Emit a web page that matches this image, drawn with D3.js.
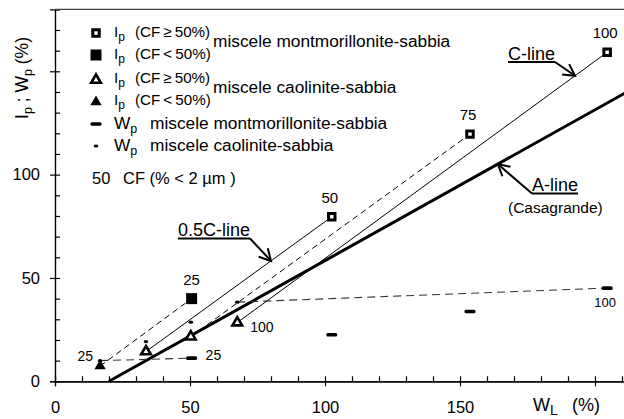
<!DOCTYPE html>
<html>
<head>
<meta charset="utf-8">
<script src="https://cdn.jsdelivr.net/npm/d3@7"></script>
<style>
  body { margin: 0; background: #fff; }
  svg { font-family: "Liberation Sans", Arial, sans-serif; }
</style>
</head>
<body>
<div id="chart"></div>
<script>
// clay fraction levels (CF, % < 2 um)
const cfLevels = [25, 50, 75, 100];
// montmorillonite-sand mixtures
const wlMont = [50.6, 102.5, 153.7, 204.5];
const ipMont = [40.0, 79.6, 119.6, 159.2];
const wpMont = [11.2, 22.5, 33.8, 45.1];
// kaolinite-sand mixtures
const wlKaol = [16.7, 33.7, 50.3, 67.5];
const ipKaol = [7.4, 14.4, 21.6, 28.4];
const wpKaol = [10.0, 19.2, 28.6, 38.3];
// Casagrande A-line end points
const aLineWL = [20, 211];
const aLineIp = [0, 139.4];
// axes
const xTicksMajor = [0, 50, 100, 150, 200];
const yTicksMajor = [0, 50, 100, 150];

const width = 624, height = 419;

const svg = d3.select('#chart').append('svg')
  .attr('width', width)
  .attr('height', height);

const x = d3.scaleLinear().domain([0, 211]).range([55, 624.7]);
const y = d3.scaleLinear().domain([0, 180]).range([381.3, 9.3]);

// helper for text with subscripts
function richText(g, parts, size, subSize) {
  parts.forEach(p => {
    const t = g.append('tspan').text(p[0]).style('font-size', (p[1] ? subSize : size) + 'px');
    if (p[1]) t.attr('dy', 4);
    else if (p[2]) t.attr('dy', -4);
    if (p[3] !== undefined) t.attr('x', p[3]);
  });
}

// ---- axes
const axisX = svg.append('g').attr('transform', 'translate(0,' + y(0) + ')');
axisX.call(d3.axisBottom(x).tickValues(d3.range(0, 211, 10)).tickSize(-5).tickFormat(''));
axisX.append('g').call(d3.axisBottom(x).tickValues(xTicksMajor).tickSize(5).tickPadding(15)
  .tickFormat(d => d < 200 ? d : ''));
axisX.selectAll('.domain').attr('stroke', '#000').attr('stroke-width', 1.2);
axisX.selectAll('line').attr('stroke', '#000').attr('stroke-width', 1.2);
axisX.selectAll('text').style('font-size', '16.5px').attr('fill', '#000').attr('font-family', null);

const axisY = svg.append('g').attr('transform', 'translate(' + x(0) + ',0)');
axisY.call(d3.axisLeft(y).tickValues(d3.range(0, 181, 10)).tickSize(-5).tickFormat(''));
axisY.append('g').call(d3.axisLeft(y).tickValues(yTicksMajor).tickSize(5).tickPadding(10)
  .tickFormat(d => d <= 100 ? d : ''));
axisY.selectAll('.domain').attr('stroke', '#000').attr('stroke-width', 1.2);
axisY.selectAll('line').attr('stroke', '#000').attr('stroke-width', 1.2);
axisY.selectAll('text').style('font-size', '16.5px').attr('fill', '#000').attr('font-family', null);

// top frame line
svg.append('line')
  .attr('x1', x(0)).attr('x2', width)
  .attr('y1', y(180)).attr('y2', y(180))
  .attr('stroke', '#444').attr('stroke-width', 1.2);

// axis titles
const xt = svg.append('text').attr('x', 533).attr('y', 411).attr('fill', '#000');
richText(xt, [['W'], ['L', true], ['(%)', false, true, 572]], 18, 14);

const yt = svg.append('text')
  .attr('transform', 'translate(28,78) rotate(-90)')
  .attr('text-anchor', 'middle').attr('fill', '#000');
richText(yt, [['I'], ['p', true], [' ; W', false, true], ['p', true], [' (%)', false, true]], 17.5, 12.5);

// ---- reference lines
const line = d3.line().x(d => x(d[0])).y(d => y(d[1]));

svg.append('path')
  .datum(aLineWL.map((d, i) => [d, aLineIp[i]]))
  .attr('d', line)
  .attr('fill', 'none').attr('stroke', '#000').attr('stroke-width', 3);

// Ip links (kaolinite -> montmorillonite for same CF); CF 50 and 100 are the C-lines
cfLevels.forEach((cf, i) => {
  const solid = cf === 50 || cf === 100;
  svg.append('path')
    .datum([[wlKaol[i], ipKaol[i]], [wlMont[i], ipMont[i]]])
    .attr('d', line)
    .attr('fill', 'none').attr('stroke', '#000').attr('stroke-width', 1)
    .attr('stroke-dasharray', solid ? null : '6,4');
});

// Wp links (only CF 25 and 100)
cfLevels.forEach((cf, i) => {
  if (cf !== 25 && cf !== 100) return;
  svg.append('path')
    .datum([[wlKaol[i], wpKaol[i]], [wlMont[i], wpMont[i]]])
    .attr('d', line)
    .attr('fill', 'none').attr('stroke', '#333').attr('stroke-width', 1.1)
    .attr('stroke-dasharray', '8,5');
});

// ---- markers
const symOpenSq = d3.symbol().type(d3.symbolSquare).size(42)();
const symFillSq = d3.symbol().type(d3.symbolSquare).size(121)();
const symOpenTri = d3.symbol().type(d3.symbolTriangle).size(40)();
const symFillTri = d3.symbol().type(d3.symbolTriangle).size(55)();

function drawIp(g, px, py, sq, filled) {
  g.append('path')
    .attr('transform', 'translate(' + px + ',' + py + ')')
    .attr('d', sq ? (filled ? symFillSq : symOpenSq) : (filled ? symFillTri : symOpenTri))
    .attr('fill', filled ? '#000' : '#fff')
    .attr('stroke', '#000')
    .attr('stroke-width', filled ? 0 : (sq ? 3 : 2.6))
    .attr('stroke-linejoin', 'miter');
}
function drawWpMont(g, px, py) {
  g.append('rect').attr('x', px - 5.5).attr('y', py - 1.8).attr('width', 11).attr('height', 3.6)
    .attr('rx', 1.5).attr('fill', '#000');
}
function drawWpKaol(g, px, py) {
  g.append('ellipse').attr('cx', px).attr('cy', py).attr('rx', 2.3).attr('ry', 1.6).attr('fill', '#000');
}

const marks = svg.append('g');
cfLevels.forEach((cf, i) => {
  drawIp(marks, x(wlMont[i]), y(ipMont[i]), true, cf < 50);
  drawIp(marks, x(wlKaol[i]), y(ipKaol[i]), false, cf < 50);
  drawWpMont(marks, x(wlMont[i]), y(wpMont[i]));
  drawWpKaol(marks, x(wlKaol[i]), y(wpKaol[i]));
});

// ---- point labels (CF)
const lbl = svg.append('g').attr('fill', '#000');
cfLevels.forEach((cf, i) => {
  lbl.append('text')
    .attr('x', x(wlMont[i]) - (i === 0 ? 0 : 2)).attr('y', y(ipMont[i]) - 14)
    .attr('text-anchor', 'middle').style('font-size', '15px').text(cf);
});
lbl.append('text').attr('x', x(wlKaol[0]) - 7).attr('y', y(ipKaol[0]) - 5)
  .attr('text-anchor', 'end').style('font-size', '14px').text(cfLevels[0]);
lbl.append('text').attr('x', x(wlKaol[3]) + 13).attr('y', y(ipKaol[3]) + 9)
  .style('font-size', '14px').text(cfLevels[3]);
lbl.append('text').attr('x', x(wlMont[0]) + 14).attr('y', y(wpMont[0]) + 2)
  .style('font-size', '14px').text(cfLevels[0]);
lbl.append('text').attr('x', x(wlMont[3]) - 2).attr('y', y(wpMont[3]) + 19)
  .attr('text-anchor', 'middle').style('font-size', '13px').text(cfLevels[3]);

// ---- annotations with arrows
function arrow(x0, y0, x1, y1) {
  const a = Math.atan2(y1 - y0, x1 - x0), L = 13, w = 0.5;
  const g = svg.append('g').attr('stroke', '#000').attr('stroke-width', 2).attr('fill', 'none');
  g.append('line').attr('x1', x0).attr('y1', y0).attr('x2', x1).attr('y2', y1);
  g.append('path').attr('d', 'M' + (x1 - L * Math.cos(a - w)) + ',' + (y1 - L * Math.sin(a - w)) +
    'L' + x1 + ',' + y1 + 'L' + (x1 - L * Math.cos(a + w)) + ',' + (y1 - L * Math.sin(a + w)));
}
function label(tx, ty, txt, size, underline) {
  const t = svg.append('text').attr('x', tx).attr('y', ty).style('font-size', size + 'px').attr('fill', '#000').text(txt);
  if (underline) {
    const w = t.node().getComputedTextLength();
    svg.append('line').attr('x1', tx).attr('x2', tx + w).attr('y1', ty + 2.5).attr('y2', ty + 2.5)
      .attr('stroke', '#000').attr('stroke-width', 2);
    return tx + w;
  }
  return tx;
}
// point on the C-lines at a given WL
function onLink(i, wl) {
  return ipKaol[i] + (ipMont[i] - ipKaol[i]) * (wl - wlKaol[i]) / (wlMont[i] - wlKaol[i]);
}

let e = label(508, 59.5, 'C-line', 18, true);
arrow(e, 62, x(192.6), y(onLink(3, 192.6)));

e = label(178, 236, '0.5C-line', 18, true);
arrow(e, 238.5, x(80), y(onLink(1, 80)));

label(532, 191, 'A-line', 18, true);
arrow(532, 193.5, x(164), y(aLineIp[1] * (164 - 20) / (aLineWL[1] - 20)));
label(508, 213, '(Casagrande)', 15.5, false);

// ---- legend
const leg = svg.append('g').attr('fill', '#000');
const lx = 96, tx = 114;
const rows = [33, 55, 79, 101, 124, 146];
drawIp(leg, lx, rows[0], true, false);
drawIp(leg, lx, rows[1], true, true);
drawIp(leg, lx, rows[2] + 1, false, false);
drawIp(leg, lx, rows[3] + 1, false, true);
drawWpMont(leg, lx, rows[4]);
drawWpKaol(leg, lx, rows[5]);

const cond = ['(CF\u2009\u2265\u200950%)', '(CF\u2009<\u200950%)', '(CF\u2009\u2265\u200950%)', '(CF\u2009<\u200950%)'];
cond.forEach((c, i) => {
  const t = leg.append('text').attr('x', tx).attr('y', rows[i] + 4);
  richText(t, [['I'], ['p', true], [c, false, true, 135]], 15.2, 12);
});
leg.append('text').attr('x', 213).attr('y', 47).style('font-size', '17.3px').text('miscele montmorillonite-sabbia');
leg.append('text').attr('x', 213).attr('y', 93).style('font-size', '17.3px').text('miscele caolinite-sabbia');
let t = leg.append('text').attr('x', tx).attr('y', rows[4] + 5);
richText(t, [['W'], ['p', true], ['miscele montmorillonite-sabbia', false, true, 150]], 17.3, 12.5);
t = leg.append('text').attr('x', tx).attr('y', rows[5] + 5);
richText(t, [['W'], ['p', true], ['miscele caolinite-sabbia', false, true, 150]], 17.3, 12.5);
leg.append('text').attr('x', 92).attr('y', 184).style('font-size', '16.5px').text('50');
leg.append('text').attr('x', 123).attr('y', 184).style('font-size', '16.5px').text('CF (% < 2 \u00b5m )');
</script>
</body>
</html>
